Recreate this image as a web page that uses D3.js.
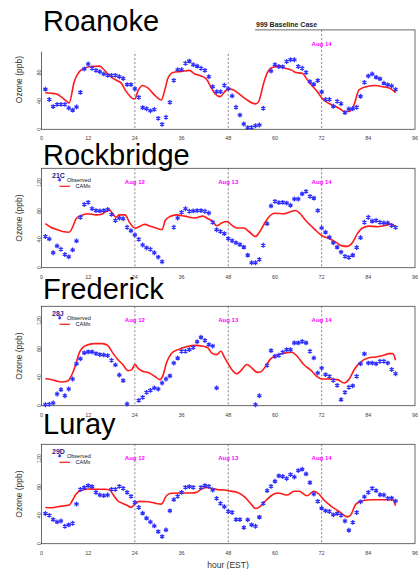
<!DOCTYPE html>
<html><head><meta charset="utf-8">
<script src="https://cdn.jsdelivr.net/npm/d3@7"></script>
<style>html,body{margin:0;padding:0;background:#fff;}svg{display:block;font-family:"Liberation Sans",Arial,sans-serif;}</style>
</head><body>
<svg id="c" width="418" height="569"></svg>
<script>
// ---------- data ----------
const sites = ["Roanoke", "Rockbridge", "Frederick", "Luray"];
const siteCodes = ["", "21C", "28J", "29D"];
const dayLabels = ["Aug 12", "Aug 13", "Aug 14"];
const dayHours = [24, 48, 72];
const xTicks = [0, 12, 24, 36, 48, 60, 72, 84, 96];
const yTicks = [0, 40, 80, 120];
const obsHours = d3.range(1, 92);
const obsRoanoke = [56.5,42,32,35,35,35,30,27,31.5,52,85,92,86,83,81,78,76,76,76,74,71.5,63,63,57,45,30.5,29,26,28,15.5,7,17,38,69,84,84,93,96,91,89,86,83,74,60,53,53,62,57,47,31,20,7.5,2.4,2.8,5,6,29.6,null,82,91,88.5,88,95.5,98,98,88.5,86,80,67,63.5,68.7,52.7,42,42,32.5,39.5,36,23.5,28.7,29,31,46.6,66,75,78,73.4,71,65,62.6,61,56];
const obsRockbridge = [44,40.5,21,30.7,26,18.6,15.3,25,37.7,71,89,92,83,80.5,80,80.5,82,75,66.5,70,69,57,52,46,40,32,28,26,21,15,8.4,null,null,57,70,78,83,79.5,80,80.5,80.5,79.5,77,64,53.5,51,48,41,38,35,32.5,29,17.7,7,7,11.6,31.6,62,87,93.5,91.6,92,91,88,96.7,96.7,104,107.4,100.5,98,80.5,56,50,43,35,29,22,16,14.4,17.7,28.4,42.3,64,71,65.6,66.5,64,63,63,59.5,56.7];
const obsFrederick = [1.4,2,3.8,16.5,22.6,14,23.5,37.6,59,66,74.4,75.8,75.8,73.4,72,71.5,70.6,64,57.4,43.3,35.3,2.4,null,null,7.5,11.8,18.8,21.6,25,23.5,32,37.6,42,60,67,76.7,76.7,79,82,90,96.5,91.8,86,84,25,null,null,null,null,null,null,null,null,null,1.4,14,null,57,77.6,69.6,71,75.3,79,79,88.5,88.5,90.4,88.5,76.7,67.3,46,53,43.8,41.4,35.8,28.7,8.5,18.8,26,28,41.4,59,73,60,60,59,62.6,62.6,60,51,45];
const obsLuray = [42.5,40,34,30.7,32,24.6,26.5,28.8,55.8,76.6,79,81.8,80.4,72.3,68.6,67.6,68.6,76.6,76.6,80.8,78,72.3,66.7,58,51,43,36,30.7,25,17,10,19.4,46.3,62,66.7,72.3,79.4,80.4,79.4,null,79.4,81.8,80.8,75.6,63.8,56.7,52,45.4,44,34,34,22.7,33.6,26.5,24.6,37.4,56.7,74.7,80.8,88,95.5,94.6,91.7,97.4,94,103,105,98.3,86,70,59.6,50,46.3,45.4,40.7,42.5,40,32,19,30,44,59,66,72.3,78,74.7,69,68.6,63.8,64.3,60];
// CAMx model, [hour, ppb]
const camxRoanoke = [[1,51.7],[2.4,50.8],[3.7,50],[5,46],[6.3,40],[7.1,37],[8.4,67],[9.7,81],[11,86],[12.7,88.5],[14.9,89],[15.7,86],[17,78],[18.3,72],[19.6,68],[20.5,65],[21.5,55.5],[22.6,47.5],[23.5,43],[24,43],[24.8,54],[26,61.6],[27.4,58],[29,48.5],[30.8,41.4],[31.7,55.5],[32.5,72],[33.8,80],[36,81.4],[38,83],[39.4,78],[41,75],[42.4,70.6],[43.7,58],[44.6,50],[45.9,46],[47.1,53],[48,57],[49.4,55.5],[51.1,48.5],[52.8,41.4],[55,35.8],[55.8,39],[57.1,65],[58,79],[59.3,87],[61,88.5],[62.6,86],[64.4,83],[65.4,80],[67,79],[68.3,70],[69.6,61],[70.9,53],[72.2,43],[73.5,37.6],[74.7,34.4],[76.5,29.6],[77.8,25],[79,25],[80.3,34],[81.6,55.5],[83.4,60],[85.9,61.6],[87.6,60],[89.4,58],[91,51.7]];
const camxRockbridge = [[1,62],[2.4,57],[3.7,54],[5.4,51],[7.1,50],[8,57],[8.9,69],[10.2,73.5],[11.9,76],[14,74.4],[15.3,75],[17.5,81.4],[18.3,76],[19.2,71],[20,74.4],[21.5,74.4],[22.6,64],[24,56],[24.8,57],[26.5,61],[28.2,58],[29.9,55],[31,53.5],[31.8,66.5],[33,72],[34.7,74.4],[36.8,72.6],[39.4,70],[41.5,72.6],[42.8,69],[44.1,65],[45,59],[46.3,63],[47.6,65],[48,64],[49,59.5],[50.2,56],[52,56],[53.3,51],[55,44],[56.3,52.5],[57.6,65],[58.8,73.5],[60,76.7],[62.3,76],[63.6,78],[65.3,80.5],[66.5,76],[67.9,66.5],[69.2,59.5],[70.5,52.5],[72.2,44.7],[73.9,41],[75.6,36],[77.3,30.7],[78.6,30],[79.9,35],[81.2,48],[82.5,56],[84.2,58.6],[86.4,57.7],[88.5,59.5],[89.8,61.4],[91,58]];
const camxFrederick = [[1,38],[2.4,37],[3.7,35],[5,33.4],[6.3,34],[7.1,36.7],[8,46],[8.9,60],[9.7,74.4],[11.4,84.7],[13.6,87.5],[15.7,87.5],[17,85],[18.3,74.4],[19.6,65],[20.9,58],[22.2,49.4],[23.2,50.8],[24,58],[24.8,53],[26,48.5],[27.4,46.6],[29.1,41.4],[30.4,36.7],[31.2,42.4],[32.1,60],[33.4,73.4],[35.1,79],[37.7,83.8],[39.4,85],[41.5,83.8],[42.8,81.4],[43.7,74.4],[45,72],[46.1,76.7],[47.1,67.3],[48,59],[48.9,51],[50.2,45],[51.1,48.5],[52.8,58],[54.1,53],[55.4,47],[56.3,47.5],[57.6,55.5],[58.9,66],[61,72],[62.7,74.4],[64.4,75.3],[65.7,69.6],[67.4,58],[69.2,50],[70.9,40.5],[72.2,37.6],[73.9,37.6],[76.1,36.7],[77.8,32],[79.1,37.6],[80.4,51],[81.7,60],[83.9,67.3],[86,68.7],[87.7,70.6],[89.4,73.4],[90.3,73.4],[91,64]];
const camxLuray = [[1,51],[2.4,50.6],[4.1,52],[5.8,53.4],[7.1,54.4],[8,61.5],[8.9,70],[10.1,74.7],[11.9,77],[14,76.6],[16.2,76.6],[17.5,76],[18.3,70],[19.6,60.5],[20.9,56.7],[22.2,53.4],[23,51],[24,55.8],[25.2,59.6],[27.4,59],[29.1,57.2],[30.8,55.8],[31.2,58],[32.1,67.6],[33.4,71],[35.9,71.4],[38.5,71.4],[39.8,72.3],[41.1,77],[42.4,79.4],[43.7,78],[45.4,76],[47.1,75.6],[48,74.7],[50.7,71.4],[52.4,65],[54.1,54.4],[55,49.6],[55.8,51],[57.6,60.5],[59.3,68.6],[60.6,71.4],[61.9,70],[63.2,68.6],[64.9,73.8],[66.2,73.8],[68.3,67.6],[70,73.8],[71.3,70],[72.6,61.5],[74.3,53.4],[76.5,45.4],[78.6,37.8],[79.5,40.7],[80.8,55.8],[82.5,60.5],[85.1,62],[87.7,62],[90.3,61.5],[91,53.4]];

const observed = [obsRoanoke, obsRockbridge, obsFrederick, obsLuray];
const camx = [camxRoanoke, camxRockbridge, camxFrederick, camxLuray];

// ---------- layout ----------
const svg = d3.select("#c");
const left = 41.5, right = 415;
const panelTops = [29.9, 168.3, 306.3, 444.3];
const panelH = 99.4;
const titleBaselines = [31, 165, 298.5, 434];
const x = d3.scaleLinear().domain([0, 96]).range([left, right]);

sites.forEach((site, i) => {
  const top = panelTops[i], bottom = top + panelH;
  const y = d3.scaleLinear().domain([0, 140]).range([bottom, top]);
  const g = svg.append("g");

  // frame
  g.append("rect").attr("x", left).attr("y", top).attr("width", right - left).attr("height", panelH)
    .attr("fill", "none").attr("stroke", "#444").attr("stroke-width", 0.8);

  // day separators
  g.selectAll(".day").data(dayHours).join("line")
    .attr("x1", d => x(d)).attr("x2", d => x(d)).attr("y1", top).attr("y2", bottom)
    .attr("stroke", "#666").attr("stroke-width", 0.8).attr("stroke-dasharray", "2,2");
  g.selectAll(".dayl").data(dayLabels).join("text")
    .attr("x", (d, k) => x(dayHours[k])).attr("y", top + 16)
    .attr("text-anchor", "middle").attr("font-size", 6).attr("font-weight", "bold")
    .attr("fill", "#ff00ff").text(d => d);

  // axes tick labels
  g.selectAll(".xt").data(xTicks).join("text")
    .attr("x", d => x(d)).attr("y", bottom + 11)
    .attr("text-anchor", "middle").attr("font-size", 5.5).attr("fill", "#444").text(d => d);
  g.selectAll(".yt").data(yTicks).join("text")
    .attr("transform", d => `translate(40.5,${y(d)}) rotate(-90)`)
    .attr("text-anchor", "middle").attr("font-size", 5.5).attr("fill", "#444").text(d => d);
  g.append("text").attr("transform", `translate(22,${(top + bottom) / 2}) rotate(-90)`)
    .attr("text-anchor", "middle").attr("font-size", 8.5).attr("fill", "#333").text("Ozone (ppb)");

  // model line
  g.append("path").datum(camx[i])
    .attr("d", d3.line().x(d => x(d[0])).y(d => y(d[1])).curve(d3.curveMonotoneX))
    .attr("fill", "none").attr("stroke", "#ff1a1a").attr("stroke-width", 1.6);

  // observations
  const sym = d3.symbol(d3.symbolAsterisk, 16);
  g.selectAll(".obs").data(obsHours.map((h, k) => [h, observed[i][k]]).filter(d => d[1] != null))
    .join("path").attr("d", sym)
    .attr("transform", d => `translate(${x(d[0])},${y(d[1])})`)
    .attr("fill", "none").attr("stroke", "#3030ff").attr("stroke-width", 1.3);

  // legend
  if (siteCodes[i]) {
    g.append("text").attr("x", 52).attr("y", top + 9.5).attr("font-size", 7).attr("font-weight", "bold")
      .attr("fill", "#1c1c8c").text(siteCodes[i]);
    g.append("path").attr("d", d3.symbol(d3.symbolAsterisk, 8)())
      .attr("transform", `translate(59.7,${top + 11.5})`)
      .attr("fill", "none").attr("stroke", "#3030ff").attr("stroke-width", 1);
    g.append("text").attr("x", 67).attr("y", top + 13.5).attr("font-size", 5.5).attr("fill", "#111").text("Observed");
    g.append("line").attr("x1", 59.5).attr("x2", 70).attr("y1", top + 18).attr("y2", top + 18)
      .attr("stroke", "#ff1a1a").attr("stroke-width", 1.2);
    g.append("text").attr("x", 75.5).attr("y", top + 20).attr("font-size", 5.5).attr("fill", "#111").text("CAMx");
  }

  if (i === 0) {
    // white cover over the top-left of the first panel
    g.append("rect").attr("x", 0).attr("y", 0).attr("width", 255).attr("height", 51.7).attr("fill", "#fff");
    g.append("text").attr("x", 256).attr("y", 26.5).attr("font-size", 7).attr("font-weight", "bold")
      .attr("fill", "#222").text("999 Baseline Case");
  }

  // big site title
  svg.append("text").attr("x", 43).attr("y", titleBaselines[i]).attr("font-size", 29)
    .attr("fill", "#000").text(site);
});

svg.append("text").attr("x", 228).attr("y", 568).attr("text-anchor", "middle")
  .attr("font-size", 8.5).attr("fill", "#333").text("hour (EST)");
</script>
</body></html>
